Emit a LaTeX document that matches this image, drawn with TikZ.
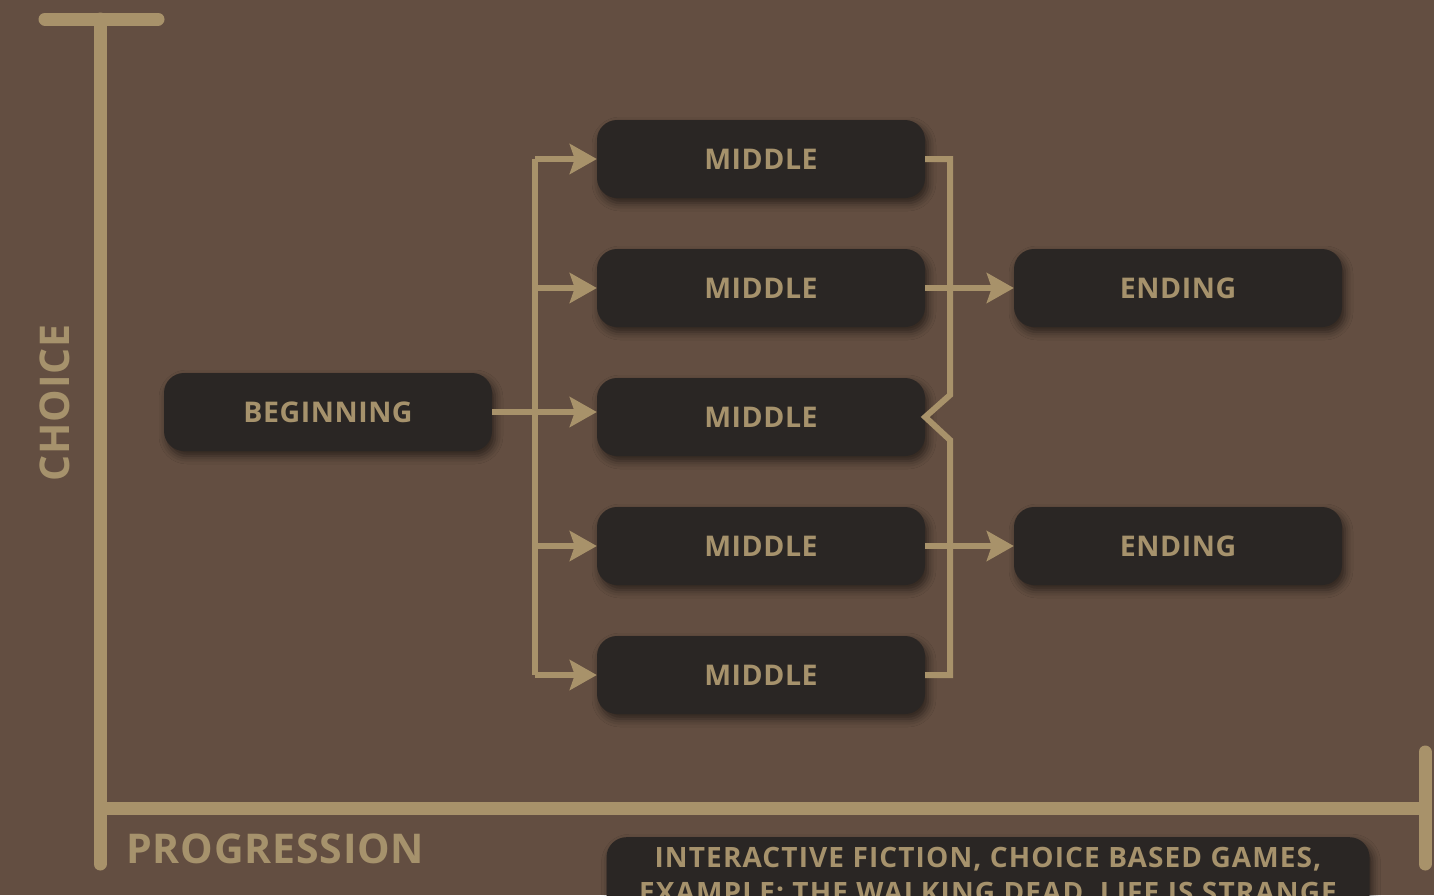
\documentclass[tikz,border=0pt]{standalone}
\usepackage{fontspec}
\setmainfont{Open Sans}
\newfontfamily\boxfont[LetterSpace=2]{Open Sans}
\newfontfamily\exfont[LetterSpace=4]{Open Sans}
\usetikzlibrary{arrows.meta,shadows.blur}
\definecolor{bgc}{HTML}{634E41}
\definecolor{tanc}{HTML}{A8926A}
\definecolor{txtc}{HTML}{A6926C}
\definecolor{boxc}{HTML}{2A2624}
\tikzset{
  box/.style={rounded corners=20pt, fill=boxc, minimum width=328pt, minimum height=78pt,
    text=txtc, font=\boxfont\fontsize{28.5}{34}\selectfont\bfseries,
    blur shadow={shadow xshift=3pt, shadow yshift=-5pt, shadow blur radius=8pt, shadow opacity=55}},
  axis/.style={draw=tanc, line width=13pt, line cap=round},
  link/.style={draw=tanc, line width=6pt, miter limit=10},
  arr/.style={link, -{Stealth[length=27pt,width=30pt,inset=5pt]}},
  axlabel/.style={text=txtc, font=\boxfont\fontsize{41}{46}\selectfont\bfseries},
}
\begin{document}
\begin{tikzpicture}[x=1pt,y=-1pt]
\fill[bgc] (0,0) rectangle (1434,895);
\useasboundingbox (0,0) rectangle (1434,895);
% axes
\draw[axis] (45,19) -- (158,19);
\draw[axis] (100,19) -- (100,864);
\draw[axis, line cap=butt] (100,808) -- (1425,808);
\draw[axis] (1425,752) -- (1425,864);
\node[axlabel, rotate=90] (choice) at (55,403) {CHOICE};
\node[axlabel, anchor=west, inner sep=0pt] (prog) at (126,849) {PROGRESSION};
% nodes
\node[box] (b) at (328,412) {BEGINNING};
\node[box] (m1) at (761,159) {MIDDLE};
\node[box] (m2) at (761,288) {MIDDLE};
\node[box] (m3) at (761,417) {MIDDLE};
\node[box] (m4) at (761,546) {MIDDLE};
\node[box] (m5) at (761,675) {MIDDLE};
\node[box] (e1) at (1178,288) {ENDING};
\node[box] (e2) at (1178,546) {ENDING};
\node[box, minimum width=763pt, anchor=north, align=center, inner ysep=8pt,
  font=\exfont\fontsize{28}{35}\selectfont\bfseries] (ex) at (988,837)
  {INTERACTIVE FICTION, CHOICE BASED GAMES,\\EXAMPLE: THE WALKING DEAD, LIFE IS STRANGE};
% connectors
\coordinate (tx) at (535,0);
\coordinate (rx) at (950,0);
\draw[link] (tx |- m1.west) -- (tx |- m5.west);
\foreach \i in {1,2,4,5} {\draw[arr] (tx |- m\i.west) -- (m\i.west);}
\draw[arr] (b.east) -- (m3.west |- b.east);
\draw[link] (m1.east) -| (950,395) -- (m3.east) -- (950,440) |- (m5.east);
\draw[arr] (m2.east) -- (e1.west);
\draw[arr] (m4.east) -- (e2.west);
\end{tikzpicture}
\end{document}
